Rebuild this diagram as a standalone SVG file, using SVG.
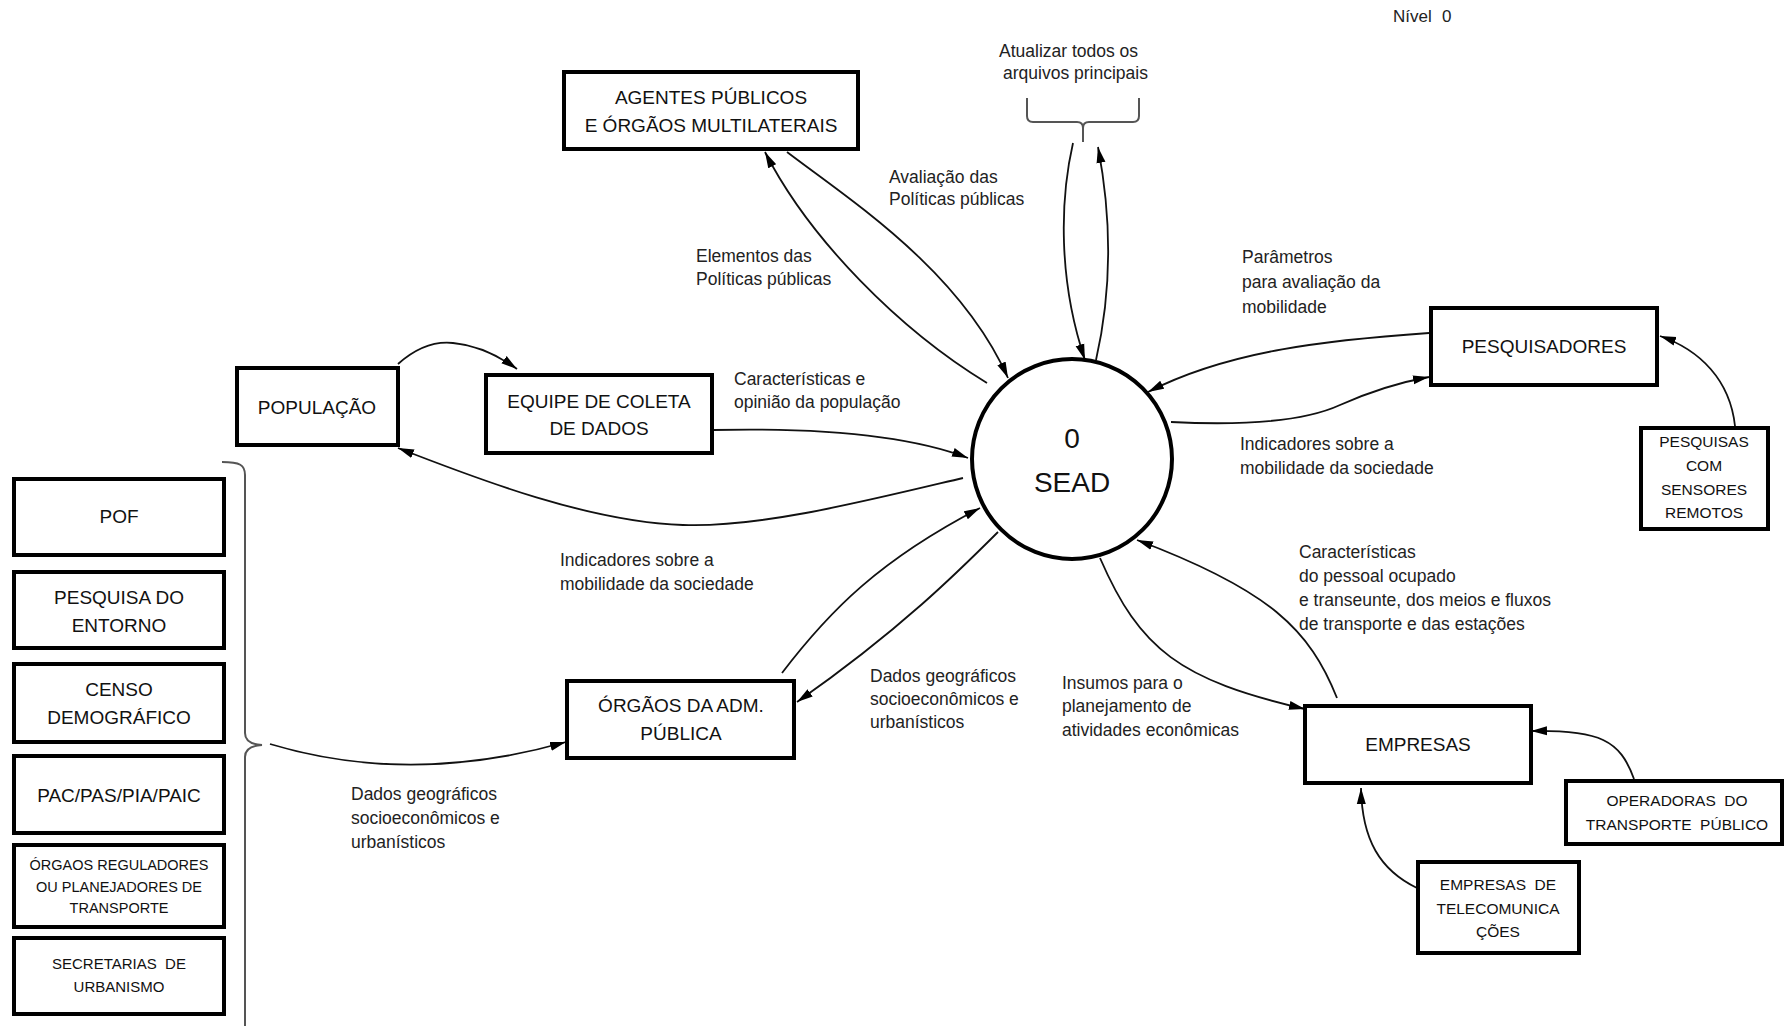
<svg xmlns="http://www.w3.org/2000/svg" width="1784" height="1026" viewBox="0 0 1784 1026">
<style>
.box{fill:#fff;stroke:#000;stroke-width:4}
.bt{font-family:"Liberation Sans",Arial,sans-serif;font-size:19px;fill:#111;text-anchor:middle}
.big{font-family:"Liberation Sans",Arial,sans-serif;font-size:28px;fill:#111;text-anchor:middle}
.st{font-family:"Liberation Sans",Arial,sans-serif;font-size:15.5px;fill:#111;text-anchor:middle}
.xs{font-family:"Liberation Sans",Arial,sans-serif;font-size:14.5px;fill:#111;text-anchor:middle}
.x15{font-family:"Liberation Sans",Arial,sans-serif;font-size:15px;fill:#111;text-anchor:middle}
.lb{font-family:"Liberation Sans",Arial,sans-serif;font-size:17.5px;fill:#222}
.nv{font-family:"Liberation Sans",Arial,sans-serif;font-size:17px;fill:#222}
.c{fill:none;stroke:#111;stroke-width:1.8}
.br{fill:none;stroke:#555;stroke-width:2}
</style>
<defs>
<marker id="ah" markerUnits="userSpaceOnUse" markerWidth="16" markerHeight="10" viewBox="0 0 16 10" refX="16" refY="5" orient="auto">
<path d="M0,0.5 L16,5 L0,9.5 z" fill="#000"/>
</marker>
</defs>
<rect width="1784" height="1026" fill="#fff"/>

<text class="nv" x="1393" y="22">Nível</text>
<text class="nv" x="1442" y="22">0</text>

<g id="connectors">
<path class="c" d="M398,364 Q425,340 453,343 Q485,346 517,369" marker-end="url(#ah)"/>
<path class="c" d="M713,430 C800,428 900,432 968,458" marker-end="url(#ah)"/>
<path class="c" d="M963,478 C870,500 760,528 683,525 C590,522 480,480 398,448" marker-end="url(#ah)"/>
<path class="c" d="M987,383 C900,330 810,240 765,152" marker-end="url(#ah)"/>
<path class="c" d="M787,152 C850,200 960,270 1008,378" marker-end="url(#ah)"/>
<path class="c" d="M1096,360 C1112,290 1112,220 1098,147" marker-end="url(#ah)"/>
<path class="c" d="M1073,143 C1060,200 1058,280 1085,360" marker-end="url(#ah)"/>
<path class="c" d="M1429,333 C1330,340 1230,350 1148,392" marker-end="url(#ah)"/>
<path class="c" d="M1171,422 Q1290,428 1340,405 Q1385,385 1429,377" marker-end="url(#ah)"/>
<path class="c" d="M1735,426 C1730,380 1700,350 1660,336" marker-end="url(#ah)"/>
<path class="c" d="M782,673 C830,610 880,560 980,508" marker-end="url(#ah)"/>
<path class="c" d="M998,532 C960,570 900,630 797,702" marker-end="url(#ah)"/>
<path class="c" d="M270,744 C350,768 450,775 566,742" marker-end="url(#ah)"/>
<path class="c" d="M1100,558 C1140,650 1180,680 1305,709" marker-end="url(#ah)"/>
<path class="c" d="M1337,698 C1310,630 1270,590 1137,540" marker-end="url(#ah)"/>
<path class="c" d="M1634,779 C1620,740 1600,730 1531,731" marker-end="url(#ah)"/>
<path class="c" d="M1417,888 C1380,870 1362,840 1361,788" marker-end="url(#ah)"/>
<path class="br" d="M1027,98 L1027,116 Q1027,122 1033,122 L1077,122 Q1083,122 1083,128 L1083,142 M1083,128 Q1083,122 1089,122 L1133,122 Q1139,122 1139,116 L1139,98"/>
<path class="br" d="M222,462 C240,462 245,465 245,475 L245,733 Q245,744 262,745 Q245,746 245,757 L245,1026"/>
</g>

<g id="sead">
<circle cx="1072" cy="459" r="100" fill="#fff" stroke="#000" stroke-width="4"/>
<text class="big" x="1072" y="448">0</text>
<text class="big" x="1072" y="492">SEAD</text>
</g>

<g id="agentes">
<rect class="box" x="564" y="72" width="294" height="77"/>
<text class="bt" x="711" y="104">AGENTES PÚBLICOS</text>
<text class="bt" x="711" y="132">E ÓRGÃOS MULTILATERAIS</text>
</g>
<g id="pesquisadores">
<rect class="box" x="1431" y="308" width="226" height="77"/>
<text class="bt" x="1544" y="353">PESQUISADORES</text>
</g>
<g id="sensores">
<rect class="box" x="1641" y="428" width="127" height="101"/>
<text class="st" x="1704" y="447">PESQUISAS</text>
<text class="st" x="1704" y="471">COM</text>
<text class="st" x="1704" y="495">SENSORES</text>
<text class="st" x="1704" y="518">REMOTOS</text>
</g>
<g id="populacao">
<rect class="box" x="237" y="368" width="161" height="77"/>
<text class="bt" x="317" y="414">POPULAÇÃO</text>
</g>
<g id="equipe">
<rect class="box" x="486" y="375" width="226" height="78"/>
<text class="bt" x="599" y="408">EQUIPE DE COLETA</text>
<text class="bt" x="599" y="435">DE DADOS</text>
</g>
<g id="orgaos-adm">
<rect class="box" x="567" y="681" width="227" height="77"/>
<text class="bt" x="681" y="712">ÓRGÃOS DA ADM.</text>
<text class="bt" x="681" y="740">PÚBLICA</text>
</g>
<g id="empresas">
<rect class="box" x="1305" y="706" width="226" height="77"/>
<text class="bt" x="1418" y="751">EMPRESAS</text>
</g>
<g id="operadoras">
<rect class="box" x="1566" y="781" width="216" height="63"/>
<text class="st" x="1677" y="806" xml:space="preserve">OPERADORAS  DO</text>
<text class="st" x="1677" y="830" xml:space="preserve">TRANSPORTE  PÚBLICO</text>
</g>
<g id="telecom">
<rect class="box" x="1418" y="862" width="161" height="91"/>
<text class="st" x="1498" y="890" xml:space="preserve">EMPRESAS  DE</text>
<text class="st" x="1498" y="914">TELECOMUNICA</text>
<text class="st" x="1498" y="937">ÇÕES</text>
</g>
<g id="pof">
<rect class="box" x="14" y="479" width="210" height="76"/>
<text class="bt" x="119" y="523">POF</text>
</g>
<g id="entorno">
<rect class="box" x="14" y="572" width="210" height="76"/>
<text class="bt" x="119" y="604">PESQUISA DO</text>
<text class="bt" x="119" y="632">ENTORNO</text>
</g>
<g id="censo">
<rect class="box" x="14" y="664" width="210" height="78"/>
<text class="bt" x="119" y="696">CENSO</text>
<text class="bt" x="119" y="724">DEMOGRÁFICO</text>
</g>
<g id="pac">
<rect class="box" x="14" y="756" width="210" height="77"/>
<text class="bt" x="119" y="802">PAC/PAS/PIA/PAIC</text>
</g>
<g id="reguladores">
<rect class="box" x="14" y="845" width="210" height="82"/>
<text class="xs" x="119" y="870">ÓRGAOS REGULADORES</text>
<text class="xs" x="119" y="892">OU PLANEJADORES DE</text>
<text class="xs" x="119" y="913">TRANSPORTE</text>
</g>
<g id="secretarias">
<rect class="box" x="14" y="938" width="210" height="76"/>
<text class="x15" x="119" y="969" xml:space="preserve">SECRETARIAS  DE</text>
<text class="x15" x="119" y="992">URBANISMO</text>
</g>

<g id="labels">
<text class="lb" x="999" y="57">Atualizar todos os</text>
<text class="lb" x="1003" y="79">arquivos principais</text>
<text class="lb" x="889" y="183">Avaliação das</text>
<text class="lb" x="889" y="205">Políticas públicas</text>
<text class="lb" x="696" y="262">Elementos das</text>
<text class="lb" x="696" y="285">Políticas públicas</text>
<text class="lb" x="734" y="385">Características e</text>
<text class="lb" x="734" y="408">opinião da população</text>
<text class="lb" x="1242" y="263">Parâmetros</text>
<text class="lb" x="1242" y="288">para avaliação da</text>
<text class="lb" x="1242" y="313">mobilidade</text>
<text class="lb" x="1240" y="450">Indicadores sobre a</text>
<text class="lb" x="1240" y="474">mobilidade da sociedade</text>
<text class="lb" x="560" y="566">Indicadores sobre a</text>
<text class="lb" x="560" y="590">mobilidade da sociedade</text>
<text class="lb" x="870" y="682">Dados geográficos</text>
<text class="lb" x="870" y="705">socioeconômicos e</text>
<text class="lb" x="870" y="728">urbanísticos</text>
<text class="lb" x="351" y="800">Dados geográficos</text>
<text class="lb" x="351" y="824">socioeconômicos e</text>
<text class="lb" x="351" y="848">urbanísticos</text>
<text class="lb" x="1062" y="689">Insumos para o</text>
<text class="lb" x="1062" y="712">planejamento de</text>
<text class="lb" x="1062" y="736">atividades econômicas</text>
<text class="lb" x="1299" y="558">Características</text>
<text class="lb" x="1299" y="582">do pessoal ocupado</text>
<text class="lb" x="1299" y="606">e transeunte, dos meios e fluxos</text>
<text class="lb" x="1299" y="630">de transporte e das estações</text>
</g>
</svg>
